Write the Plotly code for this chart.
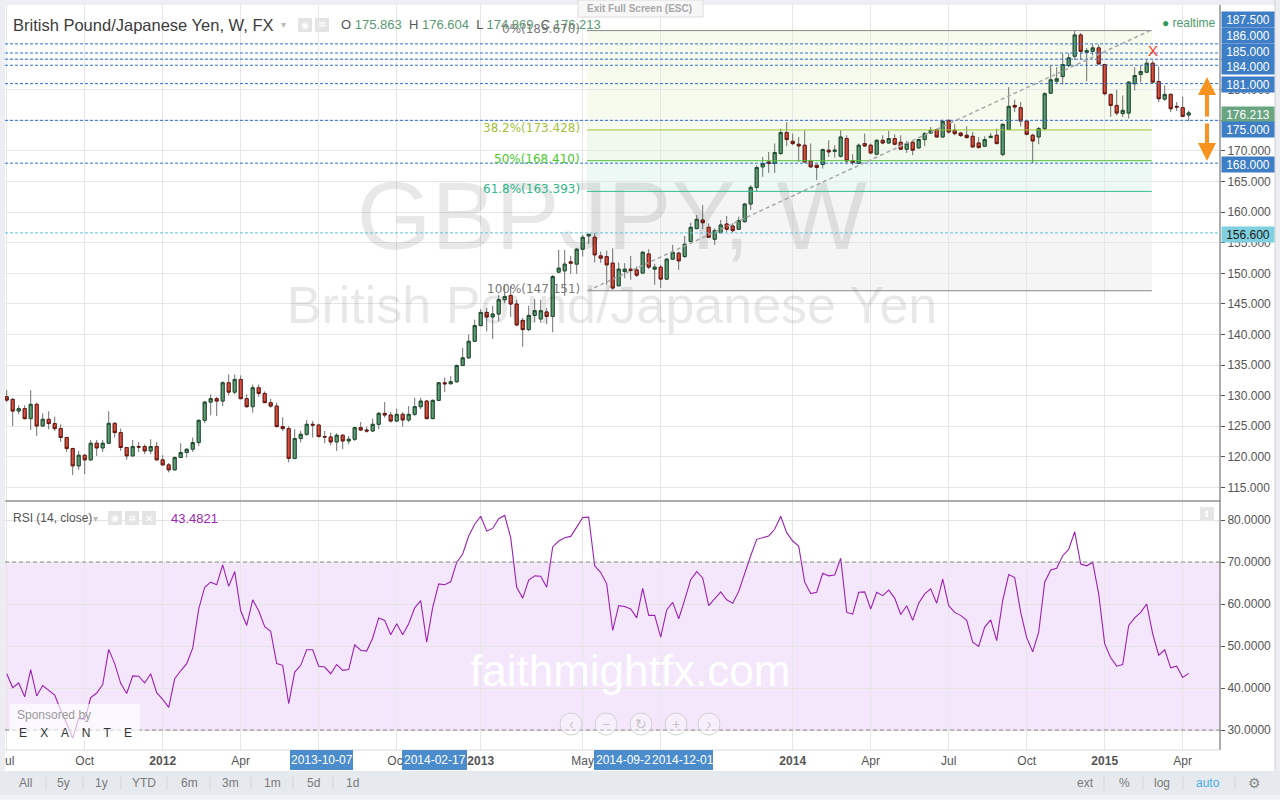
import pandas as pd
import plotly.graph_objects as go

# ---------------- DATA ----------------
dates = pd.date_range("2011-07-04", periods=198, freq="7D")  # weekly bars

opens = [129.83, 129.39, 127.49, 127.88, 126.25, 128.58, 125.04, 126.14, 125.44, 124.62,
         123.16, 121.36, 118.53, 120.27, 119.51, 122.23, 121.46, 122.23, 125.48, 123.97,
         121.53, 120.16, 121.69, 121.69, 120.97, 121.69, 119.51, 118.69, 117.88, 119.90,
         120.71, 121.25, 122.34, 125.97, 128.95, 129.51, 129.12, 132.11, 130.58, 132.65,
         129.51, 128.20, 131.30, 130.37, 128.86, 128.30, 124.95, 124.62, 119.74, 122.99,
         123.69, 125.32, 125.20, 123.32, 123.25, 122.44, 123.53, 122.60, 122.88, 124.78,
         124.39, 124.23, 125.32, 127.11, 126.84, 125.86, 126.95, 126.03, 126.95, 128.20,
         129.12, 126.25, 129.23, 132.11, 131.95, 132.28, 134.93, 136.18, 138.89, 141.45,
         143.61, 142.86, 143.35, 145.68, 146.38, 144.98, 142.30, 140.80, 143.12, 142.54,
         143.68, 142.96, 150.19, 150.40, 151.87, 151.50, 153.94, 156.10, 155.89, 152.85,
         152.73, 151.66, 147.96, 150.29, 150.68, 150.56, 150.03, 153.17, 150.68, 151.01,
         149.05, 152.31, 153.29, 152.74, 155.20, 157.30, 158.71, 157.52, 155.57, 156.64,
         158.06, 157.73, 157.20, 158.44, 161.32, 164.04, 167.39, 168.20, 167.94, 169.58,
         173.00, 171.58, 171.09, 170.93, 168.37, 167.67, 167.78, 170.12, 169.94, 169.13,
         172.02, 168.37, 167.95, 171.20, 170.93, 169.46, 171.74, 171.30, 172.02, 171.42,
         170.28, 171.42, 170.49, 171.86, 172.93, 173.49, 172.28, 175.00, 173.37, 172.93,
         172.56, 172.39, 171.30, 170.77, 172.18, 172.56, 169.42, 173.50, 177.44, 177.07,
         174.89, 172.56, 172.28, 173.65, 179.44, 181.40, 182.16, 183.95, 185.47, 188.95,
         186.12, 186.28, 186.84, 184.12, 179.23, 177.44, 176.10, 176.19, 180.98, 182.49,
         182.86, 184.33, 181.35, 178.47, 179.23, 177.28, 177.07, 175.863]

highs = [130.91, 129.67, 128.42, 128.42, 130.91, 128.90, 127.11, 127.44, 126.58, 125.32,
         123.30, 121.50, 120.97, 120.40, 122.76, 122.76, 122.76, 127.44, 125.70, 124.62,
         121.60, 122.76, 122.44, 122.05, 122.88, 122.44, 120.27, 119.00, 120.06, 122.23,
         121.36, 123.16, 126.14, 129.10, 130.21, 129.80, 132.37, 133.47, 133.47, 133.30,
         130.21, 131.84, 131.84, 130.70, 129.51, 128.86, 126.46, 125.04, 124.51, 124.23,
         126.03, 125.86, 125.40, 124.23, 123.97, 123.86, 123.69, 123.42, 124.95, 125.70,
         124.95, 126.25, 127.32, 128.95, 127.32, 127.88, 127.32, 128.30, 129.67, 129.67,
         129.30, 129.40, 132.20, 132.98, 133.19, 135.10, 137.81, 139.98, 142.42, 144.17,
         144.33, 144.70, 146.50, 148.12, 147.96, 145.68, 142.70, 144.70, 145.79, 145.68,
         144.33, 149.75, 153.82, 153.82, 152.85, 154.15, 156.27, 156.43, 156.55, 153.55,
         153.71, 154.10, 151.76, 151.66, 152.85, 151.10, 153.55, 153.94, 151.55, 151.38,
         152.52, 154.64, 153.55, 156.10, 158.27, 159.52, 161.15, 158.17, 157.36, 158.71,
         159.36, 158.17, 159.25, 161.53, 164.41, 167.67, 169.02, 169.83, 171.20, 173.65,
         174.72, 172.83, 172.28, 173.37, 171.20, 167.70, 170.39, 171.74, 170.93, 173.37,
         172.55, 169.46, 171.20, 172.83, 171.20, 171.85, 172.55, 173.26, 172.74, 172.55,
         171.63, 171.74, 172.02, 173.10, 173.91, 173.65, 175.11, 175.11, 174.35, 173.10,
         174.02, 173.10, 172.28, 172.39, 172.93, 173.65, 174.46, 180.42, 178.37, 178.00,
         175.00, 172.83, 173.91, 179.61, 183.95, 183.68, 185.86, 185.96, 189.60, 189.28,
         186.84, 187.38, 187.38, 184.23, 179.35, 180.00, 179.07, 181.40, 183.68, 183.95,
         184.88, 184.77, 183.80, 180.70, 179.45, 178.00, 178.90, 176.604]

lows = [128.95, 125.04, 126.95, 126.10, 124.39, 123.42, 124.90, 124.51, 124.23, 122.44,
        120.81, 117.02, 117.88, 117.18, 119.35, 120.16, 120.81, 122.10, 123.16, 120.97,
        119.51, 120.06, 120.81, 120.44, 120.44, 119.40, 118.60, 117.46, 117.80, 119.80,
        119.90, 120.81, 121.79, 125.50, 126.79, 126.68, 128.30, 130.04, 130.21, 129.40,
        128.04, 127.23, 129.80, 128.80, 128.04, 124.80, 124.23, 119.09, 119.60, 122.34,
        123.42, 123.16, 123.16, 122.23, 121.90, 120.97, 121.25, 122.05, 122.60, 124.23,
        123.97, 124.06, 124.51, 126.41, 125.60, 125.70, 124.95, 125.70, 126.68, 127.77,
        126.14, 126.14, 129.10, 130.58, 131.84, 132.11, 134.80, 136.02, 138.80, 141.34,
        140.52, 139.28, 142.15, 145.14, 142.86, 141.34, 138.00, 140.52, 142.00, 141.90,
        141.70, 140.36, 150.03, 146.33, 149.92, 149.92, 152.73, 154.80, 151.76, 151.70,
        148.12, 147.31, 147.85, 149.20, 148.94, 149.38, 149.92, 150.68, 148.12, 147.59,
        148.94, 152.20, 150.57, 152.52, 155.10, 157.20, 157.19, 155.73, 154.64, 156.55,
        156.80, 156.65, 157.09, 158.30, 160.34, 163.32, 165.76, 166.41, 166.41, 169.30,
        170.77, 170.93, 168.20, 168.10, 167.30, 165.22, 167.13, 169.02, 168.92, 168.92,
        167.83, 167.67, 167.90, 170.65, 169.46, 169.30, 171.10, 171.20, 170.93, 170.23,
        169.67, 169.30, 170.39, 170.77, 172.83, 172.18, 172.18, 172.83, 172.56, 172.28,
        172.02, 170.55, 170.39, 170.65, 172.18, 171.09, 169.13, 173.40, 176.36, 174.02,
        172.56, 168.05, 171.09, 173.37, 179.30, 180.98, 180.86, 183.68, 184.88, 184.88,
        181.40, 185.60, 184.12, 179.07, 175.54, 175.81, 175.54, 175.28, 179.89, 181.24,
        182.70, 181.07, 177.98, 178.17, 176.36, 176.52, 175.54, 174.869]

closes = [129.28, 127.49, 127.88, 126.25, 128.58, 125.04, 126.14, 125.44, 124.62, 123.16,
          121.36, 118.53, 120.27, 119.51, 122.23, 121.46, 122.23, 125.48, 123.97, 121.53,
          120.16, 121.69, 121.60, 120.97, 121.69, 119.51, 118.69, 117.88, 119.90, 120.71,
          121.25, 122.34, 125.97, 128.95, 129.51, 129.12, 132.11, 130.58, 132.65, 129.51,
          128.20, 131.30, 130.37, 128.86, 128.30, 124.95, 124.62, 119.74, 122.99, 123.69,
          125.32, 125.20, 123.32, 123.25, 122.44, 123.53, 122.60, 122.88, 124.78, 124.39,
          124.23, 125.32, 127.11, 126.84, 125.86, 126.95, 126.03, 126.95, 128.20, 129.12,
          126.25, 129.23, 132.11, 131.95, 132.28, 134.93, 136.18, 138.89, 141.45, 143.61,
          142.86, 143.35, 145.68, 146.22, 144.98, 141.56, 140.80, 143.12, 143.89, 143.89,
          142.96, 149.47, 150.84, 151.50, 151.66, 153.94, 155.89, 156.38, 153.01, 152.47,
          151.38, 147.59, 150.68, 150.68, 150.45, 149.70, 153.45, 151.01, 151.01, 149.05,
          152.31, 153.45, 152.03, 154.75, 157.52, 158.83, 158.27, 155.89, 156.97, 157.90,
          157.20, 156.97, 158.60, 161.32, 164.04, 167.29, 167.94, 167.94, 169.74, 173.00,
          171.86, 171.20, 170.81, 168.20, 167.39, 167.29, 170.23, 169.84, 170.12, 172.28,
          168.37, 168.10, 170.93, 170.81, 169.67, 171.74, 171.30, 172.02, 171.09, 170.28,
          171.20, 170.12, 171.86, 172.83, 173.37, 172.28, 174.84, 173.09, 172.83, 172.51,
          172.18, 170.65, 170.55, 171.86, 172.39, 171.20, 174.35, 177.28, 177.17, 174.89,
          172.72, 171.63, 173.65, 179.35, 181.63, 181.79, 184.12, 185.21, 188.95, 186.28,
          186.39, 186.84, 184.23, 179.35, 177.44, 176.19, 176.63, 181.24, 182.33, 182.98,
          184.33, 181.24, 178.53, 179.23, 176.90, 177.17, 175.65, 176.213]

rsi = [43.4, 40.1, 41.2, 37.9, 44.4, 38.1, 40.6, 39.5, 38.3, 34.7,
       31.6, 28.0, 32.8, 32.4, 37.7, 38.8, 40.8, 49.2, 45.8, 41.1,
       38.7, 42.9, 42.8, 41.2, 43.4, 38.9, 37.3, 35.4, 42.2, 44.1,
       45.8, 49.5, 58.8, 64.0, 65.2, 64.6, 69.3, 64.2, 67.7, 58.4,
       54.9, 61.0, 58.4, 54.6, 53.5, 45.8, 45.4, 36.3, 43.8, 45.4,
       49.1, 49.1, 45.2, 45.0, 43.4, 45.6, 44.2, 44.4, 50.3, 49.0,
       48.8, 51.9, 56.7, 56.1, 52.7, 55.3, 52.7, 55.3, 59.1, 60.8,
       50.9, 59.2, 64.8, 64.6, 65.3, 69.9, 71.9, 76.2, 79.0, 80.9,
       77.4, 78.0, 80.3, 81.1, 75.8, 64.0, 61.4, 65.7, 66.7, 66.6,
       64.0, 73.6, 75.0, 75.8, 76.1, 78.3, 80.6, 80.7, 69.1, 67.5,
       64.8, 53.7, 59.6, 59.4, 58.8, 56.7,
       63.7, 57.3, 57.3, 52.1, 58.6, 60.4, 56.5, 61.0, 65.8, 67.7,
       66.2, 59.6, 61.2, 62.9, 61.0, 60.2, 63.0, 67.5, 71.5, 75.4,
       75.8, 76.2, 77.8, 80.9, 77.0, 75.0, 73.8, 65.2, 62.5, 62.8,
       67.3, 66.7, 66.9, 70.9, 58.0, 57.6, 62.8, 62.9, 58.8, 62.8,
       62.0, 63.3, 61.4, 57.5, 59.6, 56.1, 60.2, 62.4, 63.6, 60.2,
       65.9, 59.6, 58.0, 57.3, 56.1, 50.9, 49.9, 54.5, 56.2, 51.3,
       60.8, 67.0, 66.3, 58.0, 52.0, 48.6, 53.3, 65.2, 68.1, 68.5,
       71.5, 73.0, 77.2, 69.5, 69.1, 69.9, 62.4, 50.5, 47.2, 45.2,
       45.6, 54.9, 56.7, 58.0, 60.0, 52.9, 47.8, 49.1, 44.8, 45.2,
       42.5, 43.48]

tick_dates = ["2011-07-04", "2011-10-03", "2012-01-02", "2012-04-02", "2012-07-02",
              "2012-10-01", "2013-01-07", "2013-05-06", "2013-08-05", "2014-01-06",
              "2014-04-07", "2014-07-07", "2014-10-06", "2015-01-05", "2015-04-06"]
tick_text = ["Jul", "Oct", "<b>2012</b>", "Apr", "Jul", "Oct", "<b>2013</b>", "May", "Aug",
             "<b>2014</b>", "Apr", "Jul", "Oct", "<b>2015</b>", "Apr"]

price_ticks = [115, 120, 125, 130, 135, 140, 145, 150, 155, 160, 165, 170, 175, 180, 185]
rsi_ticks = [30, 40, 50, 60, 70, 80]

blue_levels = [187.5, 186.0, 185.0, 184.0, 181.0, 175.0, 168.0]
cyan_level = 156.6
fib_levels = [189.670, 173.428, 168.410, 163.393, 147.151]
fib_names = ["0%", "38.2%", "50%", "61.8%", "100%"]
fib_start, fib_end = "2013-05-11", "2015-03-01"
trend_x = ["2013-05-12", "2015-02-27"]
trend_y = [147.151, 189.670]
last_o, last_h, last_l, last_c = 175.863, 176.604, 174.869, 176.213
rsi_last = 43.4821

# ---------------- GEOMETRY (pixels) ----------------
PL, PR, PT, PB = 5, 1220, 5, 750
P_RANGE = [112.95, 193.85]
R_RANGE = [25.24, 84.29]
PRICE_DOM = [(PB - 500) / (PB - PT), 1.0]
RSI_DOM = [0.0, (PB - 502) / (PB - PT)]
t0 = pd.Timestamp("2011-07-04")
PX_PER_UNIT = (500 - PT) / (P_RANGE[1] - P_RANGE[0])


def px2date(px):
    return t0 + pd.Timedelta(days=(px - 6.7) / 6.0 * 7)


def py2price(py):
    return P_RANGE[1] - (py - PT) / PX_PER_UNIT


def pxx(px):
    return (px - PL) / (PR - PL)


def pyy(py):
    return (PB - py) / (PB - PT)


FONT = "Liberation Sans, Arial, sans-serif"

fig = go.Figure()

# watermark (behind candles)
fig.add_trace(go.Scatter(
    x=[px2date(612), px2date(612)], y=[py2price(225), py2price(310)],
    mode="text", text=["GBPJPY, W", "British Pound/Japanese Yen"],
    textfont=dict(size=[96, 52], color="rgba(0,0,0,0.09)", family=FONT),
    hoverinfo="skip", showlegend=False, xaxis="x", yaxis="y"))

body_hi = [max(o, c) for o, c in zip(opens, closes)]
body_lo = [min(o, c) for o, c in zip(opens, closes)]

# wicks (grey)
fig.add_trace(go.Candlestick(
    x=dates, open=opens, high=highs, low=lows, close=closes,
    increasing=dict(line=dict(color="#6f6f6f", width=1), fillcolor="#5f9d77"),
    decreasing=dict(line=dict(color="#6f6f6f", width=1), fillcolor="#d5503f"),
    whiskerwidth=0, showlegend=False, hoverinfo="skip", xaxis="x", yaxis="y"))
# bodies with dark borders
fig.add_trace(go.Candlestick(
    x=dates, open=opens, high=body_hi, low=body_lo, close=closes,
    increasing=dict(line=dict(color="#1d4d2c", width=1), fillcolor="#5f9d77"),
    decreasing=dict(line=dict(color="#6b1610", width=1), fillcolor="#d5503f"),
    whiskerwidth=0, showlegend=False, hoverinfo="skip", xaxis="x", yaxis="y"))

# RSI
fig.add_trace(go.Scatter(x=dates, y=rsi, mode="lines",
                         line=dict(color="#9b22b3", width=1.1),
                         showlegend=False, hoverinfo="skip", xaxis="x2", yaxis="y2"))

shapes = []
# fib shading
fib_fills = ["#f6fbed", "#f0f9ec", "#edf9f4", "#f5f5f5"]
for i in range(4):
    shapes.append(dict(type="rect", xref="x", yref="y", x0=fib_start, x1=fib_end,
                       y0=fib_levels[i + 1], y1=fib_levels[i], fillcolor=fib_fills[i],
                       line=dict(width=0), layer="below"))
fib_colors = ["#8a8a8a", "#9cc83a", "#58c23a", "#33bb8f", "#8a8a8a"]
fib_text_colors = ["#7a7a7a", "#a3c13a", "#4cc92e", "#2fb88a", "#7a7a7a"]
for lv, col in zip(fib_levels, fib_colors):
    shapes.append(dict(type="line", xref="x", yref="y", x0=fib_start, x1=fib_end,
                       y0=lv, y1=lv, line=dict(color=col, width=1)))
# horizontal levels
for lv in blue_levels:
    shapes.append(dict(type="line", xref="paper", yref="y", x0=0, x1=1, y0=lv, y1=lv,
                       line=dict(color="#2e6fd2", width=1, dash="3px,2px")))
shapes.append(dict(type="line", xref="paper", yref="y", x0=0, x1=1, y0=cyan_level, y1=cyan_level,
                   line=dict(color="#5cc3d8", width=1, dash="3px,2px")))
# trend line
shapes.append(dict(type="line", xref="x", yref="y", x0=trend_x[0], x1=trend_x[1],
                   y0=trend_y[0], y1=trend_y[1],
                   line=dict(color="#a8a8a8", width=1.5, dash="4px,3px")))
# RSI band + levels
shapes.append(dict(type="rect", xref="paper", yref="y2", x0=0, x1=1, y0=30, y1=70,
                   fillcolor="#f4e7fc", line=dict(width=0), layer="below"))
for lv in (70, 30):
    shapes.append(dict(type="line", xref="paper", yref="y2", x0=0, x1=1, y0=lv, y1=lv,
                       line=dict(color="#8c8c8c", width=1, dash="4px,3px")))


def prect(x0, y0, x1, y1, fill, line=None, layer="above"):
    shapes.append(dict(type="rect", xref="paper", yref="paper",
                       x0=pxx(x0), x1=pxx(x1), y0=pyy(y1), y1=pyy(y0),
                       fillcolor=fill, line=line or dict(width=0), layer=layer))


def pline(x0, y0, x1, y1, color, width=1):
    shapes.append(dict(type="line", xref="paper", yref="paper",
                       x0=pxx(x0), x1=pxx(x1), y0=pyy(y0), y1=pyy(y1),
                       line=dict(color=color, width=width)))


# frame pieces
prect(0, 0, 1280, PT, "#eceef2")
prect(0, 0, PL, 800, "#eceef2")
prect(1275, 0, 1280, 800, "#eceef2")
prect(0, 771, 1280, 800, "#e6e9ee")
prect(0, 795, 1280, 800, "#f1f2f5")
pline(PL, 501, PR, 501, "#5a5a5a", 1)
pline(PR, PT, PR, PB, "#5a5a5a", 1)
pline(PL, PB, PR, PB, "#d8d8d8", 1)
pline(1275, 0, 1275, 771, "#d0d0d0", 1)
# header icons
prect(298, 18, 312, 32, "#e4e4e4")
prect(315, 18, 329, 32, "#e4e4e4")
prect(108, 511, 122, 525, "#e4e4e4")
prect(125, 511, 139, 525, "#e4e4e4")
prect(142, 511, 156, 525, "#e4e4e4")
prect(1200, 507, 1214, 521, "#e6e6e6")
# exit full screen tooltip
prect(578, 0, 703, 17, "#f7f7f7", dict(color="#dddddd", width=1))
# sponsored box
prect(10, 704, 140, 741, "rgba(255,255,255,0.65)")
# nav circles
for cx in (571, 606, 641, 676, 709):
    shapes.append(dict(type="circle", xref="paper", yref="paper",
                       x0=pxx(cx - 11), x1=pxx(cx + 11), y0=pyy(724 + 11), y1=pyy(724 - 11),
                       fillcolor="rgba(255,255,255,0.35)", line=dict(color="#d2d2d2", width=1)))
# time axis date boxes
prect(290, 750, 353, 770, "#4b8dcc")
prect(402, 750, 467, 770, "#4b8dcc")
prect(594, 750, 713, 770, "#4b8dcc")
# toolbar separators
for sx in (46, 83, 121, 167, 210, 251, 293, 333, 1104, 1143, 1183, 1235):
    pline(sx, 776, sx, 790, "#d3d7dd", 1)

annotations = []


def ann(text, px, py, size=12, color="#555555", xanchor="center", family=FONT, **kw):
    annotations.append(dict(text=text, x=pxx(px), y=pyy(py), xref="paper", yref="paper",
                            showarrow=False, xanchor=xanchor, yanchor="middle",
                            font=dict(size=size, color=color, family=family), **kw))


# header
ann("British Pound/Japanese Yen, W, FX", 11, 25, size=16.5, color="#3c3c3c", xanchor="left")
ann("▾", 283, 25, size=10, color="#bbbbbb")
ann("◉", 305, 25, size=9, color="#ffffff")
ann("✲", 322, 25, size=10, color="#ffffff")
G = "#5b9a73"
ann(f"O <span style='color:{G}'>{last_o:.3f}</span>  H <span style='color:{G}'>{last_h:.3f}</span>"
    f"  L <span style='color:{G}'>{last_l:.3f}</span>  C <span style='color:{G}'>{last_c:.3f}</span>",
    339, 25, size=13, color="#555555", xanchor="left")
ann("<b>Exit Full Screen (ESC)</b>", 640, 8, size=10, color="#a8a8a8")
ann("<span style='color:#2e9a5a'>●</span> realtime", 1160, 23, size=12, color="#4c9a6c", xanchor="left")

# fib labels
for lv, nm, col in zip(fib_levels, fib_names, fib_text_colors):
    annotations.append(dict(text=f"{nm}({lv:.3f})", x=px2date(582), y=lv, xref="x", yref="y",
                            showarrow=False, xanchor="right", yanchor="middle", yshift=2,
                            font=dict(size=12, color=col, family="DejaVu Sans")))

# red X
annotations.append(dict(text="X", x=dates[191], y=py2price(50), xref="x", yref="y", showarrow=False,
                        font=dict(size=15, color="#ef3b2c", family=FONT)))
# orange arrows
ax_date = px2date(1207)
annotations.append(dict(x=ax_date, y=py2price(77), ax=ax_date, ay=py2price(118), xref="x", yref="y",
                        axref="x", ayref="y", showarrow=True, arrowhead=2, arrowsize=0.9,
                        arrowwidth=4, arrowcolor="#f7931e", text=""))
annotations.append(dict(x=ax_date, y=py2price(161), ax=ax_date, ay=py2price(122), xref="x", yref="y",
                        axref="x", ayref="y", showarrow=True, arrowhead=2, arrowsize=0.9,
                        arrowwidth=4, arrowcolor="#f7931e", text=""))

# right-side price boxes (text, y pixel, bg, fg)
boxes = [("187.500", 20, "#3d7ec6", "#ffffff"), ("186.000", 35.5, "#3d7ec6", "#ffffff"),
         ("185.000", 51, "#3d7ec6", "#ffffff"), ("184.000", 66.5, "#3d7ec6", "#ffffff"),
         ("181.000", 84.5, "#3d7ec6", "#ffffff"), (f"{last_c:.3f}", 114, "#6aa582", "#ffffff"),
         ("175.000", 129.5, "#3d7ec6", "#ffffff"), ("168.000", 164, "#3d7ec6", "#ffffff"),
         ("156.600", 234, "#80d0df", "#1a1a1a")]
for t, y, bg, fg in boxes:
    annotations.append(dict(text=t, x=pxx(1221), y=pyy(y), xref="paper", yref="paper",
                            showarrow=False, xanchor="left", yanchor="middle",
                            width=50, height=13, bgcolor=bg, borderpad=1, align="center",
                            font=dict(size=12, color=fg, family=FONT)))

# RSI header
ann("RSI (14, close)", 11, 518, size=12, color="#555555", xanchor="left")
ann("▾", 95, 518, size=10, color="#bbbbbb")
ann("◉", 115, 518, size=9, color="#ffffff")
ann("✲", 132, 518, size=10, color="#ffffff")
ann("✕", 149, 518, size=10, color="#ffffff")
ann(f"{rsi_last:.4f}", 169, 518, size=13, color="#9c27b0", xanchor="left")
ann("⬆", 1207, 514, size=9, color="#ffffff")
# watermark site
ann("faithmightfx.com", 630, 670, size=44, color="#ffffff")
ann("Sponsored by", 15, 715, size=12, color="#9a9a9a", xanchor="left")
ann("E    X    A    N    T    E", 17, 733, size=12, color="#333333", xanchor="left")
for cx, g in zip((571, 606, 641, 676, 709), ("‹", "−", "↻", "+", "›")):
    ann(g, cx, 724, size=14, color="#c4c4c4")
# time axis boxes text
ann("2013-10-07", 321.5, 760, size=12, color="#ffffff")
ann("2014-02-17", 434.5, 760, size=12, color="#ffffff")
ann("2014-09-2", 623, 760, size=12, color="#ffffff")
ann("2014-12-01", 683, 760, size=12, color="#ffffff")
# toolbar
for t, x in (("All", 25), ("5y", 64), ("1y", 101), ("YTD", 144), ("6m", 189), ("3m", 230),
             ("1m", 272), ("5d", 313), ("1d", 352), ("ext", 1085), ("%", 1124), ("log", 1162)):
    ann(t, x, 783, size=12, color="#7a7a7a")
ann("auto", 1208, 783, size=12, color="#4aaee6")
ann("⚙", 1254, 783, size=14, color="#8a8a8a")

x_range = [px2date(PL), px2date(PR)]

fig.update_layout(
    width=1280, height=800,
    margin=dict(l=PL, r=1280 - PR, t=PT, b=800 - PB, autoexpand=False),
    paper_bgcolor="#ffffff", plot_bgcolor="#ffffff",
    showlegend=False, hovermode=False, boxgap=0.28, boxmode="overlay",
    font=dict(family=FONT, size=12, color="#555555"),
    shapes=shapes, annotations=annotations,
    xaxis=dict(domain=[0, 1], anchor="y", range=x_range, type="date", automargin=False,
               tickvals=tick_dates, ticktext=tick_text, showticklabels=False,
               showgrid=True, gridcolor="#e6e6e6", zeroline=False, ticks="",
               rangeslider=dict(visible=False), fixedrange=True),
    yaxis=dict(domain=PRICE_DOM, anchor="x", side="right", range=P_RANGE, automargin=False,
               tickvals=price_ticks, ticktext=[f"{v:.3f}" for v in price_ticks],
               showgrid=True, gridcolor="#e6e6e6", zeroline=False,
               ticks="outside", ticklen=4, tickcolor="#555555",
               tickfont=dict(size=12, color="#555555")),
    xaxis2=dict(domain=[0, 1], anchor="y2", matches="x", type="date", automargin=False,
                tickvals=tick_dates, ticktext=tick_text, showticklabels=True,
                ticklabeloverflow="allow",
                showgrid=True, gridcolor="#e6e6e6", zeroline=False, ticks="",
                ticklabelstandoff=2, tickfont=dict(size=12, color="#555555")),
    yaxis2=dict(domain=RSI_DOM, anchor="x2", side="right", range=R_RANGE, automargin=False,
                tickvals=rsi_ticks, ticktext=[f"{v:.4f}" for v in rsi_ticks],
                showgrid=True, gridcolor="#e4e4e4", zeroline=False,
                ticks="outside", ticklen=4, tickcolor="#555555",
                tickfont=dict(size=12, color="#555555")),
)

fig.write_html("out.html", config={"displayModeBar": False, "staticPlot": True},
               post_script="document.body.style.margin='0';document.body.style.overflow='hidden';")
